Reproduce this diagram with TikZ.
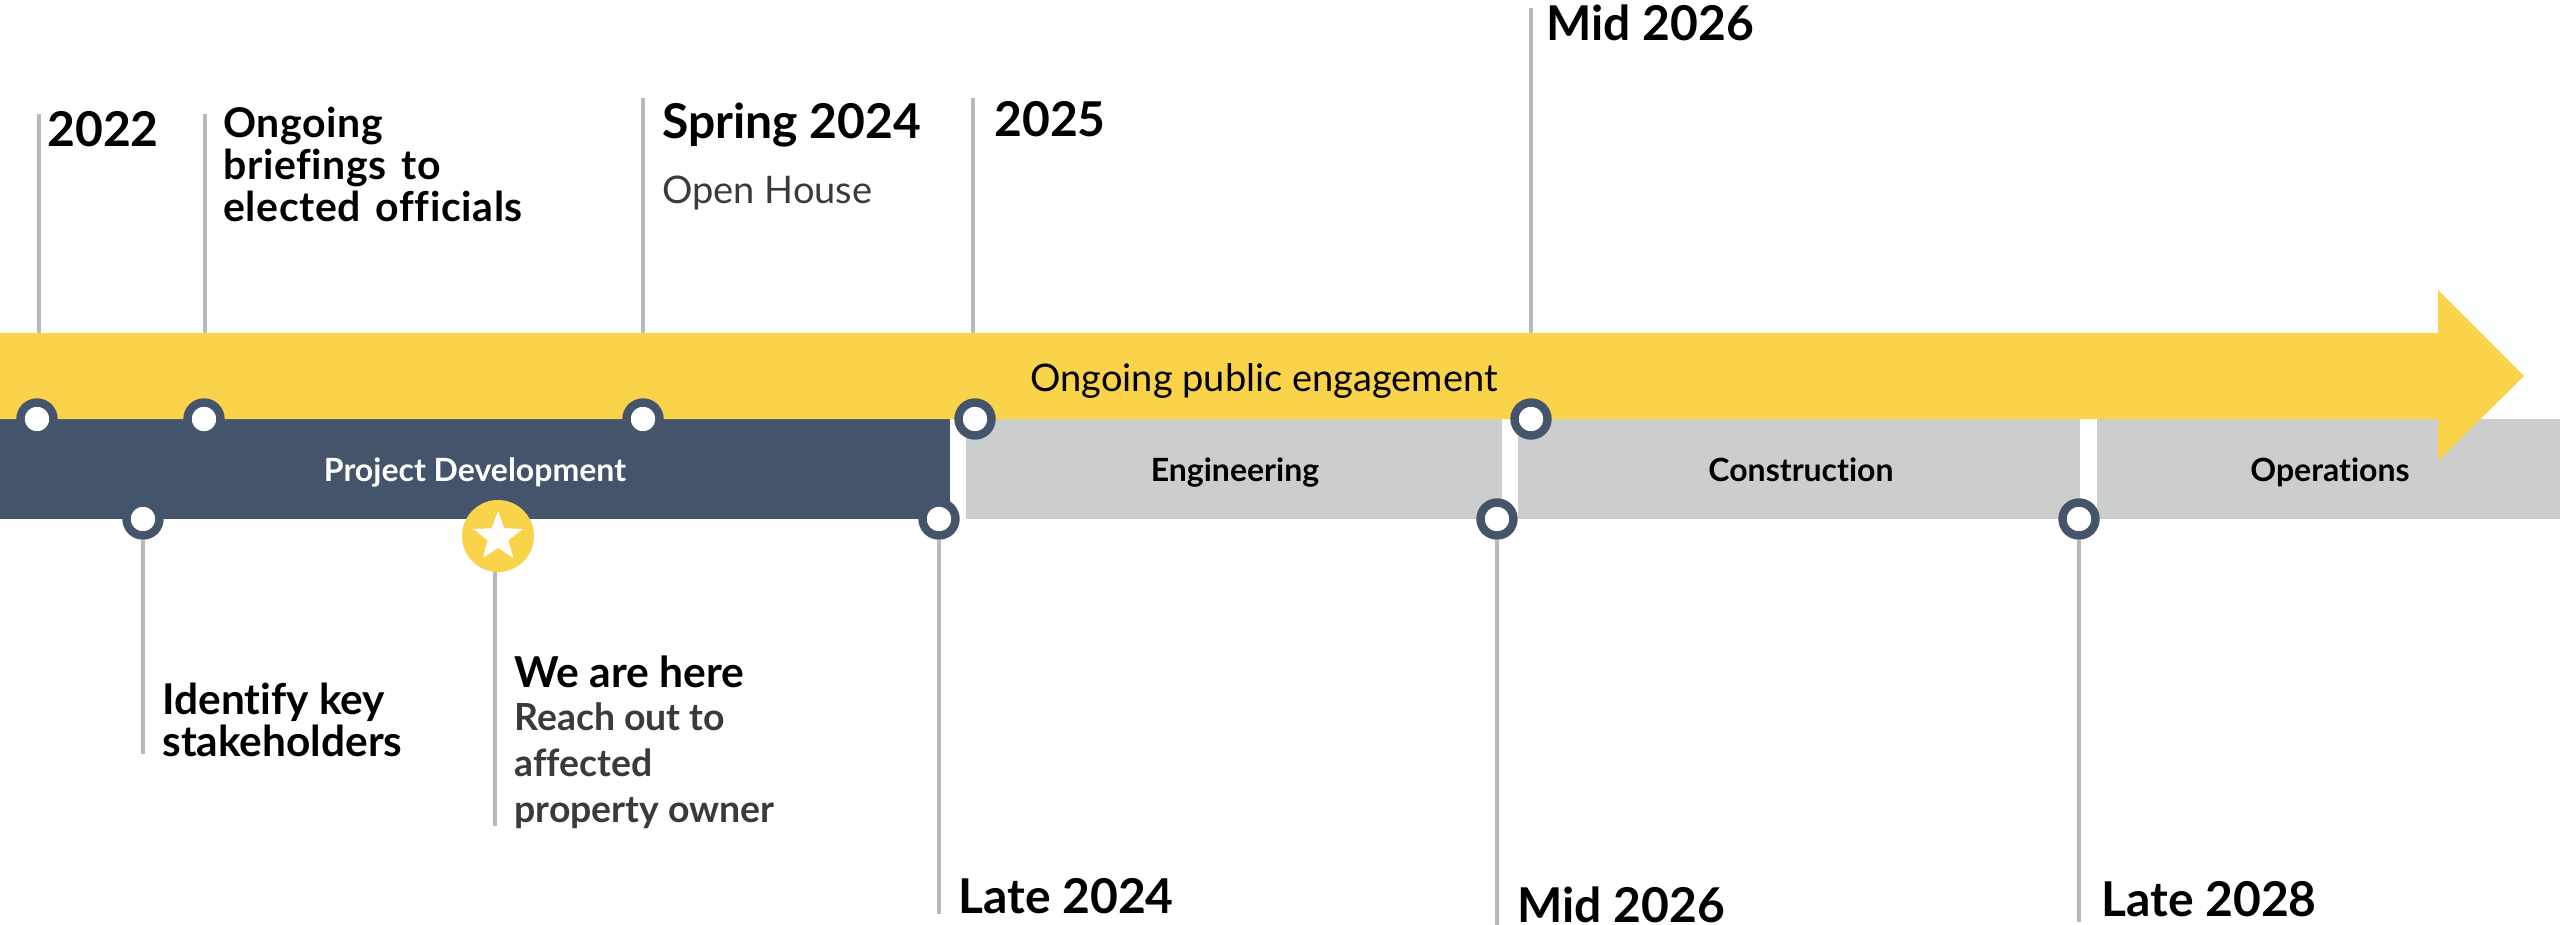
\documentclass[tikz,border=0pt]{standalone}
\usepackage{fontspec}
\setmainfont[Ligatures=CommonOff]{Lato}
\newfontfamily\spaced[Ligatures=CommonOff, WordSpace=1.4, LetterSpace=1.5]{Lato}
\usepackage{tikz}
\usetikzlibrary{shapes.geometric, backgrounds}

\definecolor{slate}{HTML}{44546A}
\definecolor{sun}{HTML}{F9D349}
\definecolor{band}{HTML}{CCCECD}
\definecolor{stemgray}{HTML}{B8B8B8}
\definecolor{bodygray}{HTML}{3A3A3A}

\tikzset{
	ring/.style={circle, draw=slate, line width=4.2pt, fill=white, inner sep=0pt, minimum size=16.5pt},
	stem/.style={stemgray, line width=1.7pt},
	head/.style={anchor=base west, inner sep=0pt, font=\bfseries\fontsize{24}{24}\selectfont},
	sub/.style={anchor=base west, inner sep=0pt, align=left},
	body/.style={anchor=base west, inner sep=0pt, align=left, text=bodygray},
	phase/.style={inner sep=0pt, font=\bfseries\fontsize{16}{16}\selectfont},
}

\begin{document}
\begin{tikzpicture}[x=0.5pt, y=-0.5pt]
	\useasboundingbox (0, 0) rectangle (2560, 925);

	% phase bands
	\fill [slate] (0, 419) rectangle (950, 518.5);
	\fill [band] (966, 419) rectangle (1502, 518.5);
	\fill [band] (1518, 419) rectangle (2080, 518.5);
	\fill [band] (2097, 419) rectangle (2560, 518.5);
	\node [phase, white] (pd) at (475, 474) {\strut Project Development};
	\node [phase] (en) at (1235, 474) {\strut Engineering};
	\node [phase] (co) at (1801, 474) {\strut Construction};
	\node [phase] (op) at (2330, 474) {\strut Operations};

	% engagement arrow
	\fill [sun] (0, 333) -- (2438, 333) -- (2438, 290) -- (2524, 376) -- (2438, 461) -- (2438, 419) -- (0, 419) -- cycle;
	\node [inner sep=0pt, font=\fontsize{19}{20}\selectfont] (eng) at (1264, 384) {\strut Ongoing public engagement};

	% milestones
	\foreach \n/\x/\y in {a/37/419, b/204/419, c/643/419, d/975/419, e/1531/419, f/143/519, g/939/519, h/1497/519, i/2079/519}
		\node [ring] (\n) at (\x, \y) {};

	\node [circle, fill=sun, inner sep=0pt, minimum size=36pt] (here) at (498, 536) {};
	\node [star, star points=5, star point ratio=2.4, fill=white, inner sep=0pt, minimum size=26pt] (hs) at (498, 537) {};

	\coordinate (atop) at (39, 114);
	\coordinate (btop) at (205, 114);
	\coordinate (ctop) at (643, 98);
	\coordinate (dtop) at (973, 98);
	\coordinate (etop) at (1531, 8);
	\coordinate (fend) at (143, 754);
	\coordinate (send) at (495, 826);
	\coordinate (gend) at (939, 914);
	\coordinate (hend) at (1497, 925);
	\coordinate (iend) at (2079, 922);

	\begin{scope}[on background layer]
		\draw [stem] (atop) -- (atop |- a);
		\draw [stem] (btop) -- (btop |- b);
		\draw [stem] (ctop) -- (c);
		\draw [stem] (dtop) -- (dtop |- d);
		\draw [stem] (etop) -- (e);
		\draw [stem] (f) -- (fend);
		\draw [stem] (g) -- (gend);
		\draw [stem] (h) -- (hend);
		\draw [stem] (i) -- (iend);
		\draw [stem] (send |- here) -- (send);
	\end{scope}

	% labels
	\node [head] (t2022) at (47, 146.5) {2022};
	\node [sub, font=\spaced\bfseries\fontsize{20.5}{21}\selectfont] (tbrief) at (223, 221.5) {Ongoing\\briefings to\\elected officials};
	\node [head] (tspring) at (662, 139) {Spring 2024};
	\node [body, font=\fontsize{19}{21}\selectfont] (thouse) at (662, 204) {Open House};
	\node [head] (t2025) at (994, 137) {2025};
	\node [head] (tmid) at (1546, 41) {Mid 2026};

	\node [sub, font=\bfseries\fontsize{21.2}{21}\selectfont] (tkey) at (162, 756) {Identify key\\stakeholders};
	\node [head, font=\bfseries\fontsize{21.3}{24}\selectfont] (there) at (514, 687) {We are here};
	\node [body, font=\bfseries\fontsize{18.7}{22.8}\selectfont] (treach) at (514, 822) {Reach out to\\affected\\property owner};
	\node [head] (tlate) at (958, 913) {Late 2024};
	\node [head] (tmidb) at (1517, 922) {Mid 2026};
	\node [head] (tlateb) at (2101, 916) {Late 2028};
\end{tikzpicture}
\end{document}
